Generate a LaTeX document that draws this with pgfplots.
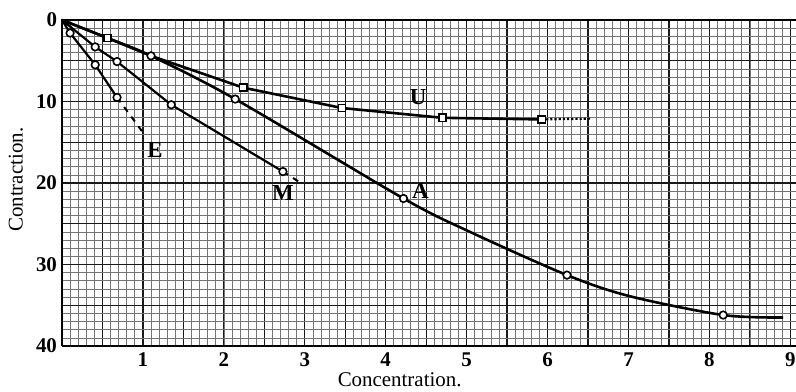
\documentclass[border=0pt]{standalone}
\usepackage{pgfplots}
\pgfplotsset{compat=1.18}
\usepackage{fontspec}
\setmainfont{Liberation Serif}
\begin{document}
\begin{tikzpicture}
\begin{axis}[
  scale only axis,
  width=367bp, height=163bp,
  xmin=0, xmax=9.07, ymin=0, ymax=40,
  y dir=reverse,
  axis line style={draw=none},
  xtick={0.5,1,1.5,2,2.5,3,3.5,4,4.5,5,5.5,6,6.5,7,7.5,8,8.5,9},
  xticklabels={,1,,2,,3,,4,,5,,6,,7,,8,,9},
  ytick={0,5,10,15,20,25,30,35,40},
  yticklabels={0,,10,,20,,30,,40},
  minor xtick={0.1,0.2,...,9.05},
  minor ytick={1,...,39},
  grid=both,
  major grid style={black!90, line width=0.6pt},
  minor grid style={black!55, line width=0.35pt},
  tick style={draw=none},
  major tick length=0pt, minor tick length=0pt,
  ticklabel style={font=\bfseries\fontsize{10.5}{10.5}\selectfont},
  /pgf/number format/assume math mode=true,
  xticklabel style={yshift=0bp},
  yticklabel style={xshift=1bp},
  xlabel={Concentration.},
  ylabel={Contraction.},
  label style={font=\fontsize{10.5}{11}\selectfont},
  xlabel style={at={(axis description cs:0.46,0)}, anchor=north, yshift=-10bp},
  ylabel style={at={(axis description cs:0,0.51)}, anchor=south, yshift=16bp},
  clip=false,
]
% curve E
\addplot[black, line width=1.1pt, mark=*, mark size=1.9bp, mark indices={2,3,4},
  mark options={solid, fill=white, line width=0.8pt}]
  coordinates {(0,0) (0.10,1.6) (0.41,5.5) (0.68,9.5)};
\addplot[black, line width=1.0pt, dashed] coordinates {(0.68,9.5) (1.0,13.8)};
% curve M
\addplot[black, line width=1.1pt, mark=*, mark size=1.9bp, mark indices={2,3,4,5},
  mark options={solid, fill=white, line width=0.8pt}]
  coordinates {(0,0) (0.41,3.3) (0.68,5.1) (1.35,10.4) (2.73,18.6)};
\addplot[black, line width=1.0pt, dashed] coordinates {(2.73,18.6) (2.92,19.8)};
% curve A
\addplot[black, line width=1.3pt, smooth, tension=0.5]
  coordinates {(0,0) (0.56,2.2) (1.10,4.4) (2.14,9.7) (4.22,21.9) (5.02,25.9) (6.24,31.3) (7.02,33.9) (8.17,36.2) (8.91,36.5)};
\addplot[only marks, black, mark=*, mark size=1.9bp,
  mark options={fill=white, line width=0.8pt}]
  coordinates {(1.10,4.4) (2.14,9.7) (4.22,21.9) (6.24,31.3) (8.17,36.2)};
% curve U
\addplot[black, line width=1.3pt, mark=square*, mark size=1.8bp, mark indices={2,4,5,6,7},
  mark options={solid, fill=white, line width=0.8pt}]
  coordinates {(0,0) (0.56,2.2) (1.10,4.4) (2.24,8.3) (3.46,10.8) (4.70,12.0) (5.93,12.2)};
\addplot[black, line width=1.1pt, densely dotted] coordinates {(5.93,12.2) (6.53,12.1)};
% curve labels
\node[font=\bfseries\fontsize{11.5}{11.5}\selectfont] at (axis cs:1.15,15.9) {E};
\node[font=\bfseries\fontsize{11.5}{11.5}\selectfont] at (axis cs:2.73,21.2) {M};
\node[font=\bfseries\fontsize{11.5}{11.5}\selectfont] at (axis cs:4.43,21.0) {A};
\node[font=\bfseries\fontsize{11.5}{11.5}\selectfont] at (axis cs:4.40,9.5) {U};
% frame
\draw[black, line width=1.1pt] (axis cs:0,40) -- (axis cs:0,0) -- (axis cs:9.07,0);
\draw[black, line width=0.8pt] (axis cs:0,40) -- (axis cs:9.07,40);
\end{axis}
\pgfresetboundingbox
\path[use as bounding box] ([shift={(-31bp,-23bp)}]current axis.south west) rectangle ([shift={(0bp,10bp)}]current axis.north east);
\end{tikzpicture}
\end{document}
